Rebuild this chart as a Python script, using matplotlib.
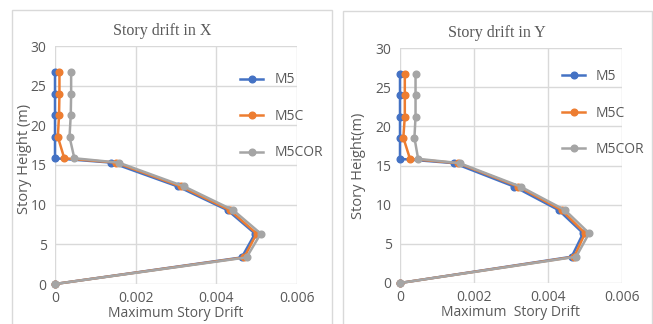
import matplotlib
matplotlib.use("Agg")
import matplotlib.pyplot as plt
from matplotlib.patches import Rectangle

# story heights (m)
height = [0, 3.35, 6.35, 9.3, 12.3, 15.3, 15.85, 18.55, 21.25, 23.95, 26.7]

# maximum story drift, X direction
x_m5 = [0, 0.00463, 0.00496, 0.00428, 0.00304, 0.00140, 0.0, 0.0, 0.0, 0.0, 0.0]
x_m5c = [0, 0.00469, 0.00500, 0.00434, 0.00312, 0.00151, 0.00023, 0.00007, 0.00010, 0.00011, 0.00011]
x_m5cor = [0, 0.00475, 0.00510, 0.00442, 0.00320, 0.00158, 0.00048, 0.00036, 0.00039, 0.00040, 0.00040]

# maximum story drift, Y direction
y_m5 = [0, 0.00464, 0.00495, 0.00429, 0.00309, 0.00146, 0.0, 0.0, 0.0, 0.0, 0.0]
y_m5c = [0, 0.00471, 0.00500, 0.00437, 0.00320, 0.00157, 0.00027, 0.00009, 0.00013, 0.00013, 0.00013]
y_m5cor = [0, 0.00476, 0.00511, 0.00446, 0.00326, 0.00161, 0.00049, 0.00039, 0.00042, 0.00042, 0.00042]

labels = ["M5", "M5C", "M5COR"]
colors = ["#4472C4", "#ED7D31", "#A5A5A5"]

W, H = 653, 324
fig = plt.figure(figsize=(W / 100, H / 100), dpi=100)

GRID = "#D9D9D9"
TXT = "#595959"
SANS = ["Open Sans", "DejaVu Sans"]


def px_axes(x0, y0, x1, y1):
    return fig.add_axes([x0 / W, (H - y1) / H, (x1 - x0) / W, (y1 - y0) / H])


def panel(x0, y0, x1, y1):
    fig.patches.append(Rectangle((x0 / W, (H - y1) / H), (x1 - x0) / W, (y1 - y0) / H,
                                 transform=fig.transFigure, facecolor="none",
                                 edgecolor=GRID, lw=1))


def drift_chart(ax, series, title, title_x, xlabel, ylabel, ylab_pos, leg_pos):
    for xs, lab, c in zip(series, labels, colors):
        ax.plot(xs, height, color=c, lw=1.8, marker="o", ms=4.8, label=lab,
                clip_on=False)
    ax.set_xlim(0, 0.006)
    ax.set_ylim(0, 30)
    ax.set_xticks([0, 0.002, 0.004, 0.006])
    ax.set_xticklabels(["0", "0.002", "0.004", "0.006"])
    ax.set_yticks(range(0, 31, 5))
    ax.grid(True, color=GRID, lw=1)
    ax.set_axisbelow(True)
    for s in ax.spines.values():
        s.set_visible(False)
    ax.tick_params(length=0, labelsize=10, labelcolor=TXT)
    ax.tick_params(axis="x", pad=5)
    ax.tick_params(axis="y", pad=6)
    for t in ax.get_xticklabels() + ax.get_yticklabels():
        t.set_family(SANS)
    ax.set_title(title, x=title_x, family=["Liberation Serif"], fontsize=11.5,
                 color=TXT, pad=8)
    ax.set_xlabel(xlabel, family=SANS, fontsize=10, color=TXT, labelpad=0)
    ax.set_ylabel(ylabel, family=SANS, fontsize=10.5, color=TXT)
    ax.yaxis.set_label_coords(*ylab_pos)
    leg = ax.legend(loc="upper left", bbox_to_anchor=leg_pos, frameon=False,
                    borderpad=0, borderaxespad=0, handlelength=1.65,
                    handletextpad=0.8, labelspacing=1.55,
                    prop={"family": SANS, "size": 10})
    for t in leg.get_texts():
        t.set_color(TXT)


panel(12, 10, 332, 340)
panel(343, 11, 652, 340)

ax1 = px_axes(55, 46, 297, 284)
drift_chart(ax1, [x_m5, x_m5c, x_m5cor], "Story drift in X", 0.442,
            "Maximum Story Drift", "Story Height (m)", (-0.095, 0.525), (0.765, 0.889))

ax2 = px_axes(400, 48, 622, 283)
drift_chart(ax2, [y_m5, y_m5c, y_m5cor], "Story drift in Y", 0.437,
            "Maximum  Story Drift", "Story Height(m)", (-0.153, 0.5), (0.73, 0.91))

fig.savefig("out.png", dpi=100)
